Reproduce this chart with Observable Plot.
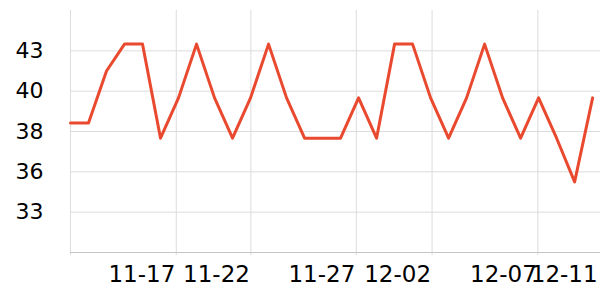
<!DOCTYPE html>
<html><head><meta charset="utf-8">
<script src="https://cdn.jsdelivr.net/npm/d3@7"></script>
<script src="https://cdn.jsdelivr.net/npm/@observablehq/plot@0.6"></script>
<style>html,body{margin:0;padding:0;background:#fff} svg{display:block}</style>
</head><body><div id="chart"></div>
<script>
// Daily series
const dates = [
  "2014-11-11","2014-11-12","2014-11-13","2014-11-14","2014-11-15","2014-11-16",
  "2014-11-17","2014-11-18","2014-11-19","2014-11-20","2014-11-21","2014-11-22",
  "2014-11-23","2014-11-24","2014-11-25","2014-11-26","2014-11-27","2014-11-28",
  "2014-11-29","2014-11-30","2014-12-01","2014-12-02","2014-12-03","2014-12-04",
  "2014-12-05","2014-12-06","2014-12-07","2014-12-08","2014-12-09","2014-12-10"
];
const values = [
  38.5, 38.5, 41.6, 43.2, 43.2, 37.6, 40.0, 43.2, 40.0, 37.6,
  40.0, 43.2, 40.0, 37.6, 37.6, 37.6, 40.0, 37.6, 43.2, 43.2,
  40.0, 37.6, 40.0, 43.2, 40.0, 37.6, 40.0, 37.6, 35.0, 40.0
];

// Axis ticks
const xTickDates  = ["2014-11-11T00:00Z","2014-11-16T21:00Z","2014-11-21T00:30Z","2014-11-26T21:00Z","2014-12-01T02:00Z","2014-12-06T23:00Z","2014-12-10T08:00Z"];
const xTickLabels = ["", "11-17", "11-22", "11-27", "12-02", "12-07", "12-11"];
const xGridDates  = xTickDates.slice(0, 6);
const xDomain = ["2014-11-11T00:00Z", "2014-12-10T10:30Z"];
const yTicks  = [33.2, 35.6, 38.0, 40.4, 42.8];
const yDomain = [30.8, 45.2];

const data = dates.map((d, i) => ({date: new Date(d), value: values[i]}));
const labelOf = new Map(xTickDates.map((d, i) => [+new Date(d), xTickLabels[i]]));

const chart = Plot.plot({
  width: 600,
  height: 300,
  marginLeft: 70,
  marginRight: 0,
  marginTop: 10,
  marginBottom: 48,
  style: {fontFamily: "DejaVu Sans", fontSize: "22px", background: "#fff", color: "#000"},
  x: {type: "utc", domain: xDomain.map(d => new Date(d)), label: null},
  y: {domain: yDomain, label: null},
  marks: [
    Plot.gridY(yTicks, {stroke: "#dcdcdc", strokeOpacity: 1}),
    Plot.gridX(xGridDates.map(d => new Date(d)), {stroke: "#dcdcdc", strokeOpacity: 1, insetBottom: -3}),
    Plot.frame({anchor: "bottom", stroke: "#c4c4c4"}),
    Plot.axisY(yTicks, {tickSize: 0, tickPadding: 27, fontSize: 22, label: null, tickFormat: d3.format(".0f")}),
    Plot.axisX(xTickDates.map(d => new Date(d)).filter(d => labelOf.get(+d)), {
      tickSize: 0, tickPadding: 13, fontSize: 23, textAnchor: "end", dx: -1, label: null,
      tickFormat: d => labelOf.get(+d)
    }),
    Plot.lineY(data, {x: "date", y: "value", stroke: "#e9492e", strokeWidth: 3})
  ]
});
document.getElementById("chart").appendChild(chart);
</script>
</body></html>
